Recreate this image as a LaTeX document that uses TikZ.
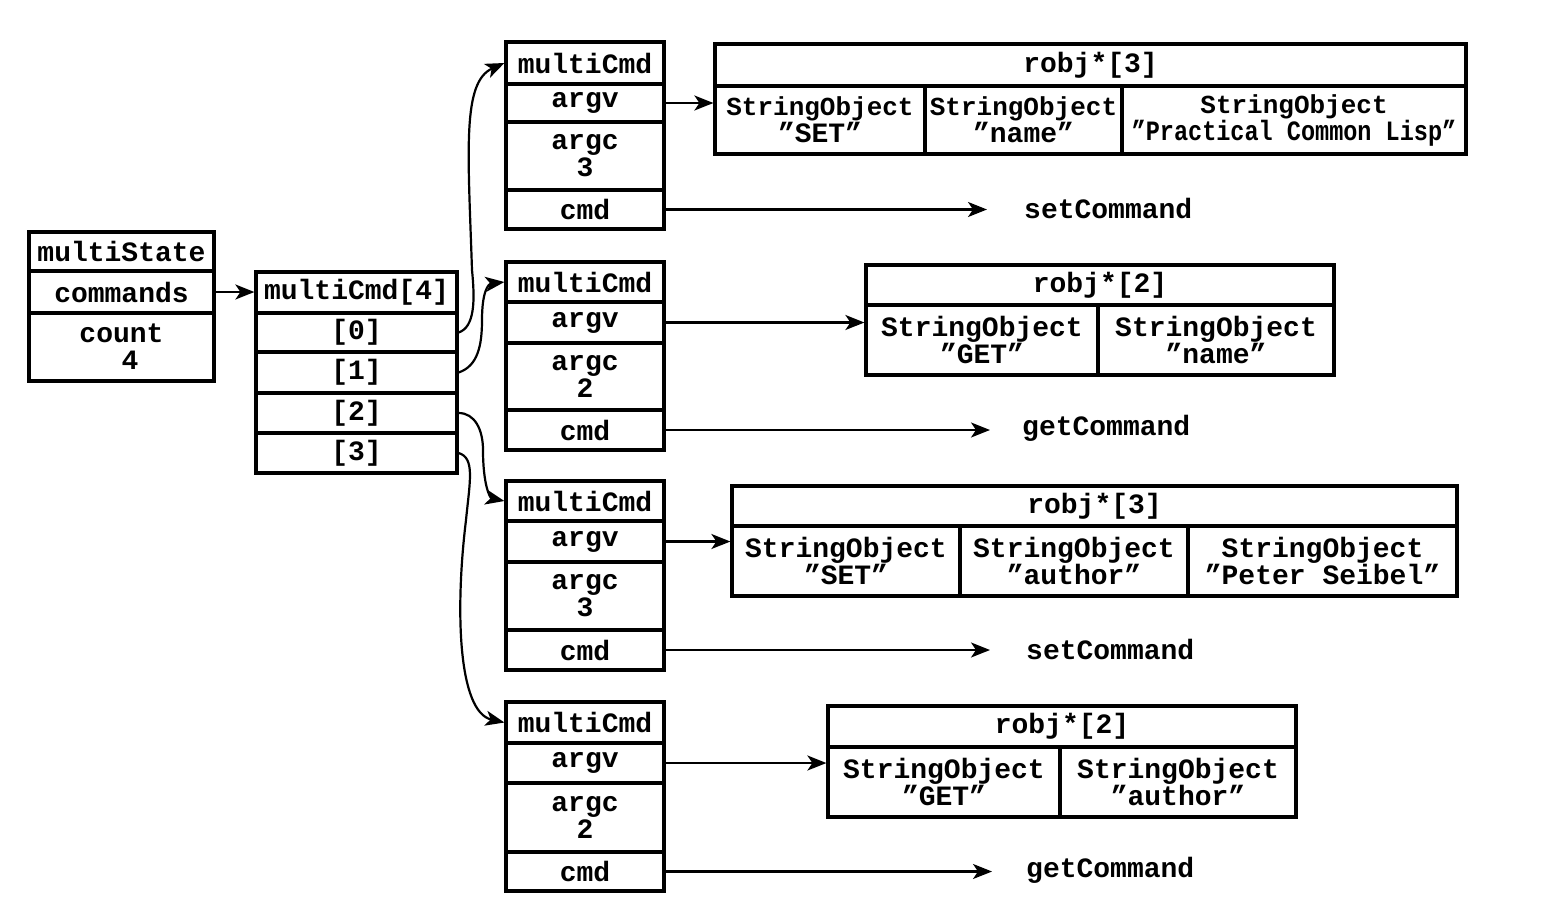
\documentclass[tikz,border=0pt]{standalone}
\usepackage{fontspec}
\setmainfont{Liberation Mono}[Ligatures=ResetAll]
\usepackage{graphicx}
\usetikzlibrary{arrows.meta}
\newcommand\mycell[6]{\node[cellst, minimum width={#4-#2}, minimum height={#5-#3}] (#1) at ({(#2+#4)/2},{(#3+#5)/2}) {#6};}
\begin{document}
\begin{tikzpicture}[x=1pt,y=-1pt,
  cellst/.style={draw, line width=3.2pt, inner sep=0pt, align=center, font=\fontsize{28}{27}\selectfont\bfseries},
  ptr/.style={line width=2.2pt, -{Stealth[length=19pt,width=15pt,inset=5pt]}},
  lbl/.style={anchor=west, inner sep=0pt, font=\fontsize{28}{27}\selectfont\bfseries}]
\useasboundingbox (0,0) rectangle (1546,902);
% multiState
\mycell{ms1}{29}{232}{214}{271}{multiState}
\mycell{ms2}{29}{271}{214}{313}{commands}
\mycell{ms3}{29}{313}{214}{381}{count\\\hspace*{17pt}4}
% multiCmd[4]
\mycell{mch}{256}{272}{457}{313}{multiCmd[4]}
\mycell{i0}{256}{313}{457}{352}{[0]}
\mycell{i1}{256}{352}{457}{393}{[1]}
\mycell{i2}{256}{393}{457}{433}{[2]}
\mycell{i3}{256}{433}{457}{473}{[3]}
% command boxes
\mycell{c1h}{506}{42}{664}{84}{multiCmd}
\mycell{c1v}{506}{84}{664}{122}{argv}
\mycell{c1c}{506}{122}{664}{190}{argc\\3}
\mycell{c1d}{506}{190}{664}{229}{cmd}
\mycell{c2h}{506}{262}{664}{302}{multiCmd}
\mycell{c2v}{506}{302}{664}{343}{argv}
\mycell{c2c}{506}{343}{664}{410}{argc\\2}
\mycell{c2d}{506}{410}{664}{450}{cmd}
\mycell{c3h}{506}{481}{664}{521}{multiCmd}
\mycell{c3v}{506}{521}{664}{562}{argv}
\mycell{c3c}{506}{562}{664}{630}{argc\\3}
\mycell{c3d}{506}{630}{664}{670}{cmd}
\mycell{c4h}{506}{702}{664}{743}{multiCmd}
\mycell{c4v}{506}{743}{664}{783}{argv}
\mycell{c4c}{506}{783}{664}{852}{argc\\2}
\mycell{c4d}{506}{852}{664}{891}{cmd}
% robj arrays
\mycell{r1h}{715}{44}{1466}{86}{robj*[3]}
\mycell{r1a}{715}{86}{925}{154}{\fontsize{26}{28}\selectfont StringObject\\"SET"}
\mycell{r1b}{925}{86}{1122}{154}{\fontsize{26}{28}\selectfont StringObject\\"name"}
\mycell{r1c}{1122}{86}{1466}{154}{\fontsize{26}{28}\selectfont StringObject\\\scalebox{0.84}[1]{"Practical Common Lisp"}}
\mycell{r2h}{866}{265}{1334}{305}{robj*[2]}
\mycell{r2a}{866}{305}{1098}{375}{StringObject\\"GET"}
\mycell{r2b}{1098}{305}{1334}{375}{StringObject\\"name"}
\mycell{r3h}{732}{486}{1457}{526}{robj*[3]}
\mycell{r3a}{732}{526}{960}{596}{StringObject\\"SET"}
\mycell{r3b}{960}{526}{1188}{596}{StringObject\\"author"}
\mycell{r3c}{1188}{526}{1457}{596}{StringObject\\"Peter Seibel"}
\mycell{r4h}{828}{706}{1296}{747}{robj*[2]}
\mycell{r4a}{828}{747}{1060}{817}{StringObject\\"GET"}
\mycell{r4b}{1060}{747}{1296}{817}{StringObject\\"author"}
% labels
\node[lbl] (f1) at (1024,208) {setCommand};
\node[lbl] (f2) at (1022,428) {getCommand};
\node[lbl] (f3) at (1026,649) {setCommand};
\node[lbl] (f4) at (1026,870) {getCommand};
% pointers
\draw[ptr] (ms2.east) -- (ms2.east -| mch.west);
\draw[ptr] (c1v.east) -- (c1v.east -| r1a.west);
\draw[ptr] (c2v.east) -- (c2v.east -| r2a.west);
\draw[ptr] (c3v.east) -- (c3v.east -| r3a.west);
\draw[ptr] (c4v.east) -- (c4v.east -| r4a.west);
\draw[ptr, shorten >=37pt] (c1d.east) -- (c1d.east -| f1.west);
\draw[ptr, shorten >=32pt] (c2d.east) -- (c2d.east -| f2.west);
\draw[ptr, shorten >=36pt] (c3d.east) -- (c3d.east -| f3.west);
\draw[ptr, shorten >=34pt] (c4d.east) -- (c4d.east -| f4.west);
\draw[ptr] (i0.east) .. controls (475,327) and (475,300) .. (472,270)
  .. controls (468,150) and (462,82) .. (c1h.west);
\draw[ptr] (i1.east) .. controls (478,366) and (482,345) .. (482,320)
  .. controls (482,292) and (488,284) .. (c2h.west);
\draw[ptr] (i2.east) .. controls (475,413) and (483,430) .. (483,450)
  .. controls (483,485) and (490,498) .. (c3h.west);
\draw[ptr] (i3.east) .. controls (475,458) and (470,480) .. (466,520)
  .. controls (455,610) and (458,712) .. (c4h.west);
\end{tikzpicture}
\end{document}
